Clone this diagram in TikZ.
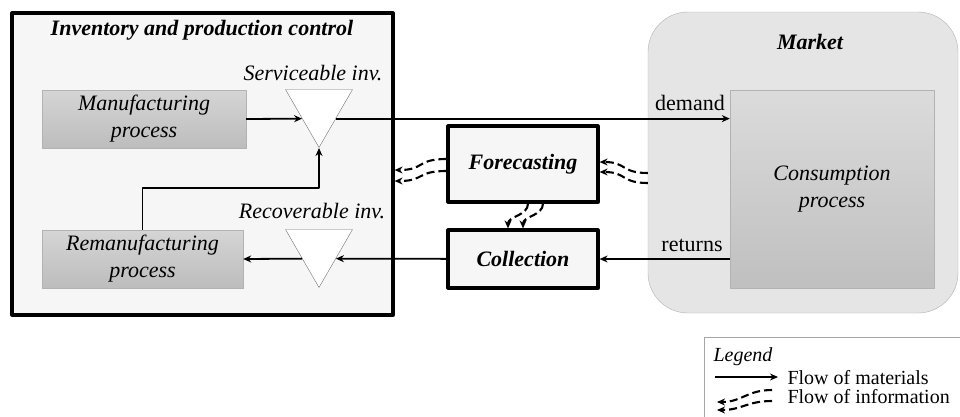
\documentclass[tikz,border=0pt]{standalone}
\usepackage{fontspec}
\setmainfont{Liberation Serif}
\usetikzlibrary{shapes.geometric,shadows,arrows.meta,calc}

\begin{document}
\begin{tikzpicture}[x=1pt, y=-1pt, font=\fontsize{22}{27}\selectfont, line join=round, >={Stealth[length=8pt,width=7pt]},
	ctrl/.style={draw, line width=3.2pt, fill=gray!7, drop shadow={shadow xshift=2pt, shadow yshift=-2pt, opacity=0.35}},
	proc/.style={draw=gray!60, top color=gray!33, bottom color=gray!52, align=center, font=\fontsize{22}{27}\selectfont\itshape},
	inv/.style={draw=gray!90!black, fill=white, isosceles triangle, isosceles triangle stretches, shape border rotate=-90, minimum width=67, minimum height=58, inner sep=0pt},
	title/.style={font=\fontsize{22}{27}\selectfont\bfseries\itshape},
	flow/.style={->, line width=1.8pt},
	info/.style={->, dash pattern=on 8pt off 4pt, line width=2.1pt}]
	\useasboundingbox (0,0) rectangle (960,416);
	% inventory and production control
	\node[ctrl, minimum width=381, minimum height=302] (ipc) at (202.5,164) {};
	\node[title] (ipct) at (202,30) {Inventory and production control};
	\node[proc, minimum width=204, minimum height=58] (man) at (144,119) {Manufacturing\\process};
	\node[proc, minimum width=201, minimum height=58] (rem) at (142.5,259) {Remanufacturing\\process};
	\node[inv, anchor=apex] (svc) at (319,148) {};
	\node[inv, anchor=apex] (rec) at (319,288) {};
	\node[anchor=base, font=\fontsize{22}{27}\selectfont\itshape] (svcl) at (313,80) {Serviceable inv.};
	\node[anchor=base, font=\fontsize{22}{27}\selectfont\itshape] (recl) at (312,218) {Recoverable inv.};
	% forecasting and collection
	\node[ctrl, title, minimum width=150, minimum height=76] (fc) at (523,164) {Forecasting};
	\node[ctrl, title, minimum width=150, minimum height=58] (col) at (523,259) {Collection};
	% market
	\node[draw=gray!60, fill=gray!20, rounded corners=40, minimum width=310, minimum height=301] (mkt) at (803,162.5) {};
	\node[title] (mktt) at (810,42) {Market};
	\node[proc, minimum width=204, minimum height=198, top color=gray!28, bottom color=gray!50] (cons) at (832,189) {Consumption\\process};
	\node (dem) at (690,103) {demand};
	\node (ret) at (692,245) {returns};
	% material flows
	\draw[flow] (man.east) -- (svc.right side);
	\draw[flow] (svc.left side) -- (svc.left side -| cons.west);
	\draw[flow] (rem.north) -- ++(0,-42) -| (svc.apex);
	\draw[flow] (col) -- (rec.left side);
	\draw[flow] (rec.right side) -- (rem.east);
	\draw[flow] (cons.west |- col) -- (col);
	% information flows
	\draw[info] ($(fc.west)+(0,-5)$) .. controls +(-30,0) and +(30,0) .. ($(ipc.east)+(0,6)$);
	\draw[info] ($(fc.west)+(0,7)$) .. controls +(-30,0) and +(30,0) .. ($(ipc.east)+(0,17)$);
	\draw[info] ($(fc.east -| mkt.west)+(0,9)$) .. controls +(-27,0) and +(27,0) .. ($(fc.east)+(0,-2)$);
	\draw[info] ($(fc.east -| mkt.west)+(0,19)$) .. controls +(-27,0) and +(27,0) .. ($(fc.east)+(0,8)$);
	\draw[info] ($(fc.south)+(5,0)$) .. controls +(0,12) and +(0,-12) .. ($(col.north)+(-15,0)$);
	\draw[info] ($(fc.south)+(20,0)$) .. controls +(0,12) and +(0,-12) .. ($(col.north)+(0,0)$);
	% legend
	\draw[gray!70] (704,337) rectangle (961,417);
	\node[anchor=base west, font=\fontsize{20}{24}\selectfont\itshape] (lgd) at (710,361) {Legend};
	\node[anchor=west, font=\fontsize{20}{24}\selectfont] (lmat) at (784,378) {Flow of materials};
	\node[anchor=west, font=\fontsize{20}{24}\selectfont] (linf) at (784,397) {Flow of information};
	\draw[flow] ($(lmat.west)+(-69,-1)$) -- ($(lmat.west)+(-6,-1)$);
	\draw[info] ($(linf.west)+(-12,-7)$) .. controls +(-25,0) and +(25,0) .. ($(linf.west)+(-67,5)$);
	\draw[info] ($(linf.west)+(-12,4)$) .. controls +(-25,0) and +(25,0) .. ($(linf.west)+(-67,13)$);
\end{tikzpicture}
\end{document}
